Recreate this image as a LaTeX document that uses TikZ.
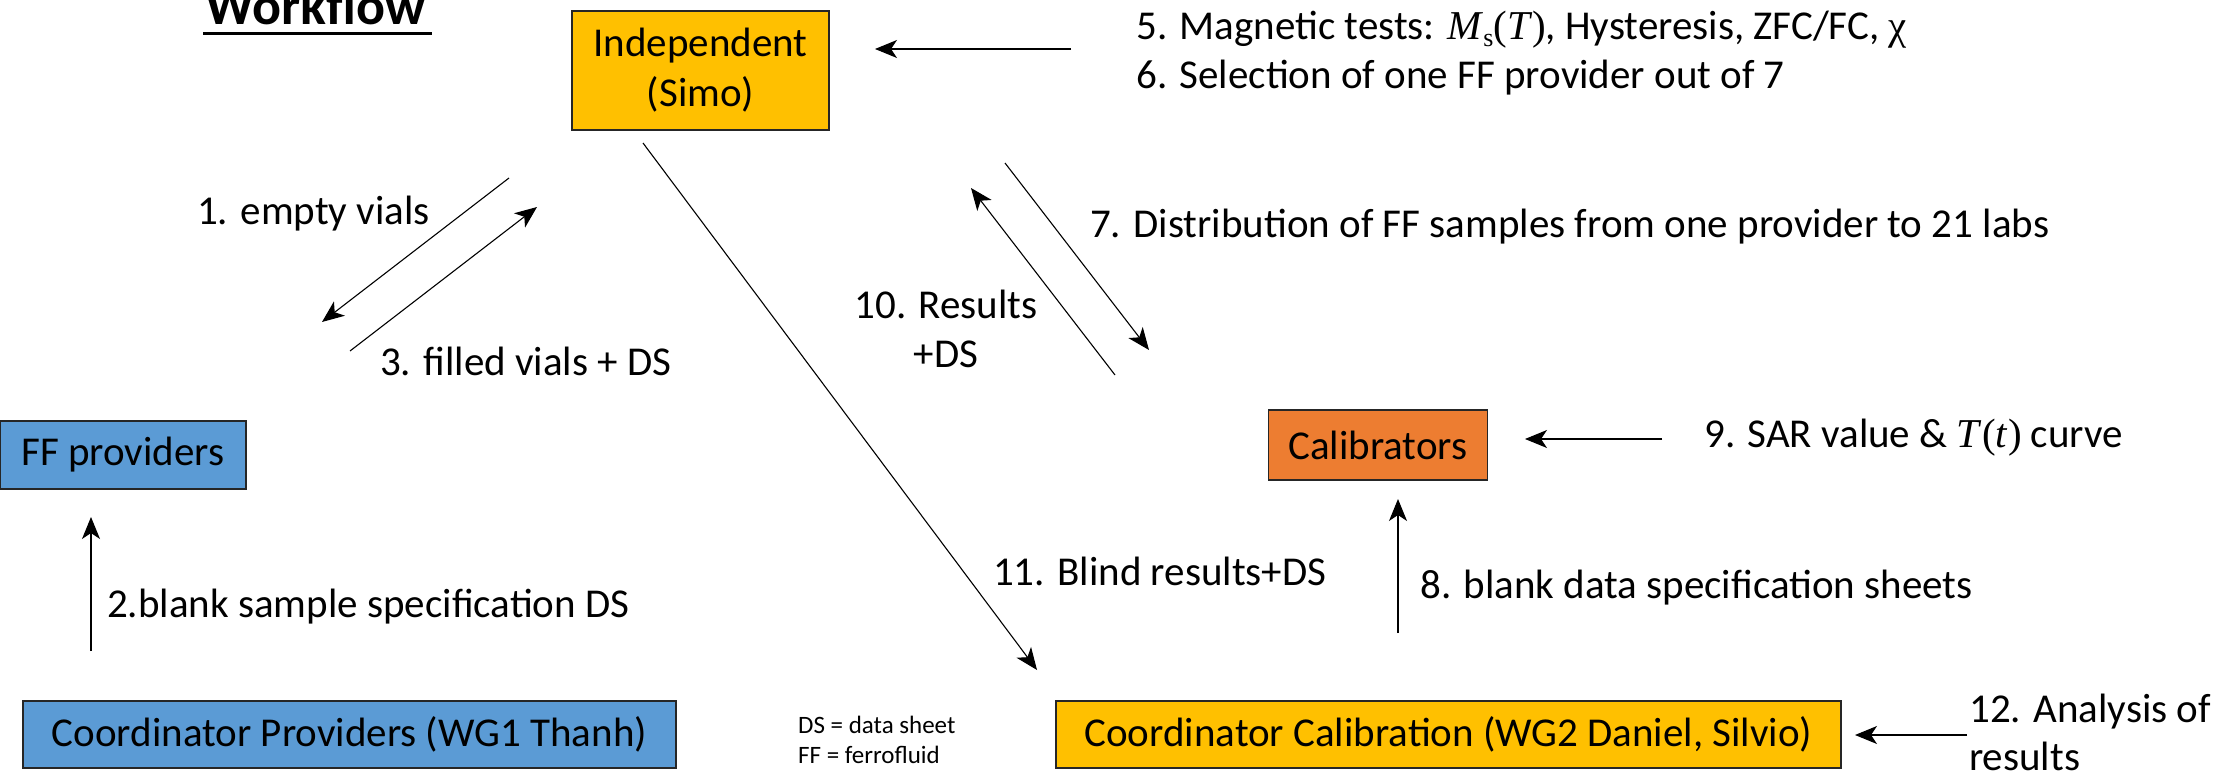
\documentclass[tikz,border=0pt]{standalone}
\usepackage{fontspec}
\setmainfont{Carlito}
\newfontfamily\tnr{Liberation Serif}
\usetikzlibrary{arrows.meta}
\definecolor{gold}{HTML}{FFC000}
\definecolor{blueb}{HTML}{5B9BD5}
\definecolor{orangeb}{HTML}{ED7D31}
\tikzset{
  box/.style={draw=black!85, line width=1.3pt, inner sep=0pt, align=center, font=\fontsize{41}{50}\selectfont},
  lbl/.style={inner sep=0pt, anchor=base west, font=\fontsize{41}{50}\selectfont},
  lblc/.style={inner sep=0pt, anchor=base, font=\fontsize{41}{50}\selectfont},
  legend/.style={inner sep=0pt, anchor=base west, font=\fontsize{25}{29}\selectfont},
  arr/.style={-{Stealth[length=22pt,width=18pt,inset=6pt]}, line width=1.1pt},
}
\begin{document}
\begin{tikzpicture}[x=1pt,y=-1pt]
\useasboundingbox (0,0) rectangle (2225,778);
\fill[white] (0,0) rectangle (2225,778);

% title
\node[inner sep=0pt, anchor=base west, font=\fontsize{54}{60}\selectfont\bfseries] (title) at (205,25) {Workflow};
\coordinate (ul1) at (203,33.5);
\coordinate (ul2) at (432,33.5);
\draw[line width=3.5pt] (ul1) -- (ul2);

% boxes
\node[box, fill=gold, minimum width=257pt, minimum height=119pt] (indep) at (700.5,70.5) {Independent\\(Simo)};
\node[box, fill=blueb, minimum width=246pt, minimum height=68pt] (ffprov) at (123,455) {FF providers};
\node[box, fill=orangeb, minimum width=219pt, minimum height=70pt] (calib) at (1378,445) {Calibrators};
\node[box, fill=blueb, minimum width=653pt, minimum height=67pt] (cprov) at (349.5,734.5) {Coordinator Providers (WG1 Thanh)};
\node[box, fill=gold, minimum width=785pt, minimum height=67pt] (ccal) at (1448.5,734.5) {Coordinator Calibration (WG2 Daniel, Silvio)};

% labels
\node[lbl] (t5) at (1136,40) {5. Magnetic tests: {\tnr\textit{M}\raisebox{-7pt}{\fontsize{26}{26}\selectfont s}(\textit{T})}, Hysteresis, ZFC/FC, {\tnr χ}};
\node[lbl] (t6) at (1136,89) {6. Selection of one FF provider out of 7};
\node[lbl] (t7) at (1090,237) {7. Distribution of FF samples from one provider to 21 labs};
\node[lblc] (t10a) at (946,318) {10. Results};
\node[lblc] (t10b) at (946,367) {+DS};
\node[lbl] (t1) at (197,225) {1. empty vials};
\node[lbl] (t3) at (380,375) {3. filled vials + DS};
\node[lbl] (t2) at (107,617) {2.blank sample specification DS};
\node[lbl] (t11) at (993,585) {11. Blind results+DS};
\node[lbl] (t8) at (1420,598) {8. blank data specification sheets};
\node[lbl] (t9) at (1704,447) {9. SAR value \& {\tnr\textit{T}(\textit{t})} curve};
\node[lbl] (t12a) at (1969,722) {12. Analysis of};
\node[lbl] (t12b) at (1969,770) {results};
\node[legend] (lg1) at (798,733) {DS = data sheet};
\node[legend] (lg2) at (798,763) {FF = ferrofluid};

% arrow end points
\coordinate (a1s) at (509,178);  \coordinate (a1e) at (322,322);
\coordinate (a3s) at (350,351);  \coordinate (a3e) at (537,207);
\coordinate (a2s) at (91,651);   \coordinate (a2e) at (91,517);
\coordinate (a5s) at (1071,49);  \coordinate (a5e) at (875,49);
\coordinate (a7s) at (1005,163); \coordinate (a7e) at (1149,350);
\coordinate (a10s) at (1115,375); \coordinate (a10e) at (971,188);
\coordinate (a11s) at (643,143); \coordinate (a11e) at (1037,670);
\coordinate (a8s) at (1398,633); \coordinate (a8e) at (1398,499);
\coordinate (a9s) at (1662,439); \coordinate (a9e) at (1525,439);
\coordinate (a12s) at (1967,735); \coordinate (a12e) at (1855,735);

\draw[arr] (a1s) -- (a1e);
\draw[arr] (a3s) -- (a3e);
\draw[arr] (a2s) -- (a2e);
\draw[arr] (a5s) -- (a5e);
\draw[arr] (a7s) -- (a7e);
\draw[arr] (a10s) -- (a10e);
\draw[arr] (a11s) -- (a11e);
\draw[arr] (a8s) -- (a8e);
\draw[arr] (a9s) -- (a9e);
\draw[arr] (a12s) -- (a12e);
\end{tikzpicture}
\end{document}
